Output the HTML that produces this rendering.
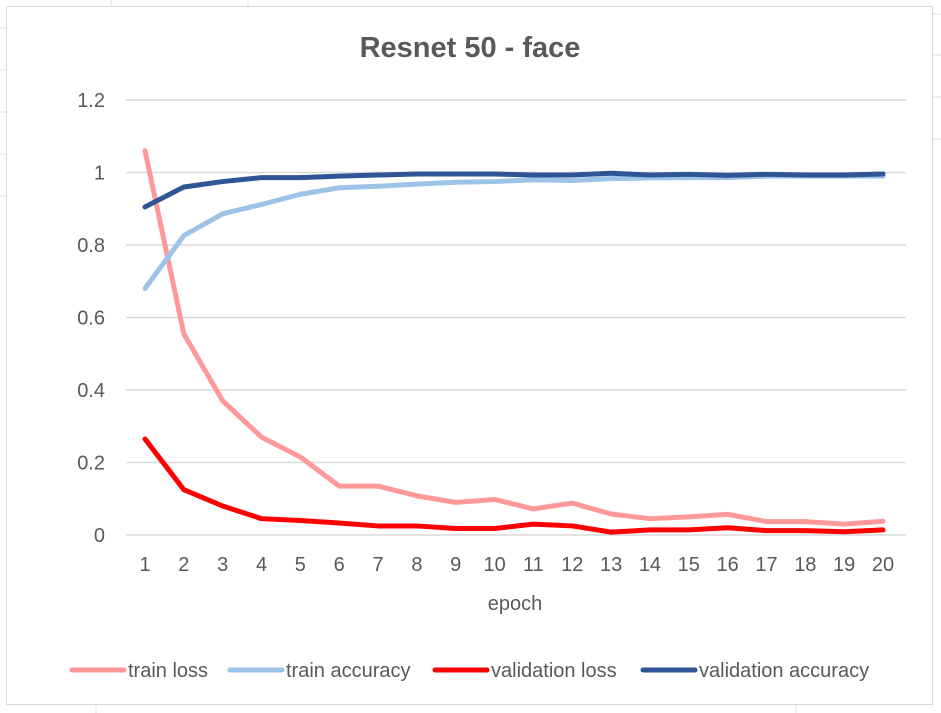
<!DOCTYPE html>
<html><head><meta charset="utf-8"><style>
html,body{margin:0;padding:0;background:#fff;}
svg{display:block;font-family:"Liberation Sans",sans-serif;}
</style></head><body>
<svg id="chart" width="941" height="713" viewBox="0 0 941 713">
<g stroke="#e1e1e1" stroke-width="1">
<line x1="111" y1="0" x2="111" y2="6"/><line x1="248" y1="0" x2="248" y2="6"/>
<line x1="0" y1="28" x2="6" y2="28"/><line x1="0" y1="70" x2="6" y2="70"/><line x1="0" y1="112" x2="6" y2="112"/><line x1="0" y1="154" x2="6" y2="154"/><line x1="0" y1="196" x2="6" y2="196"/>
<line x1="933" y1="14" x2="941" y2="14"/><line x1="933" y1="55" x2="941" y2="55"/><line x1="933" y1="97" x2="941" y2="97"/><line x1="933" y1="139" x2="941" y2="139"/>
<line x1="96" y1="705" x2="96" y2="713"/><line x1="796" y1="705" x2="796" y2="713"/>
</g>
<rect x="6.5" y="6.5" width="926" height="698" fill="#fff" stroke="#d9d9d9"/>
<text x="470" y="57" text-anchor="middle" font-size="29" font-weight="bold" fill="#595959">Resnet 50 - face</text>
<g id="grid"></g>
<g id="yticks"></g>
<g id="xticks"></g>
<text x="515" y="610" text-anchor="middle" font-size="20" fill="#595959">epoch</text>
<g id="series"></g>
<g id="legend"></g>
</svg>
<script>
const epochs=[1,2,3,4,5,6,7,8,9,10,11,12,13,14,15,16,17,18,19,20];
const yTicks=[0,0.2,0.4,0.6,0.8,1,1.2];
const yTickLabels=["0","0.2","0.4","0.6","0.8","1","1.2"];
const trainLoss=[1.06,0.555,0.37,0.27,0.215,0.135,0.135,0.108,0.09,0.098,0.072,0.088,0.058,0.045,0.05,0.057,0.037,0.037,0.03,0.038];
const trainAcc=[0.68,0.826,0.886,0.912,0.94,0.958,0.962,0.968,0.973,0.975,0.98,0.978,0.983,0.985,0.986,0.986,0.99,0.99,0.99,0.99];
const valLoss=[0.265,0.125,0.08,0.045,0.04,0.033,0.025,0.025,0.018,0.018,0.03,0.025,0.008,0.014,0.014,0.02,0.012,0.012,0.009,0.014];
const valAcc=[0.905,0.96,0.975,0.986,0.986,0.99,0.993,0.996,0.996,0.996,0.993,0.993,0.998,0.993,0.995,0.992,0.995,0.993,0.993,0.996];
const seriesNames=["train loss","train accuracy","validation loss","validation accuracy"];
const NS="http://www.w3.org/2000/svg";
const x0=145,x1=883,yBase=535,yTop=100;
function X(i){return x0+(x1-x0)*(i-1)/19;}
function Y(v){return yBase-(yBase-yTop)*v/1.2;}
function mk(t,a,p){const e=document.createElementNS(NS,t);for(const k in a)e.setAttribute(k,a[k]);p.appendChild(e);return e;}
const grid=document.getElementById('grid'),yt=document.getElementById('yticks'),xt=document.getElementById('xticks');
yTicks.forEach((v,i)=>{
  const l=mk('line',{x1:126,x2:906,y1:Y(v),y2:Y(v),stroke:'#d9d9d9','stroke-width':1.5},grid);
  
  
  const t=mk('text',{x:105,y:Y(v)+7,'text-anchor':'end','font-size':20,fill:'#595959'},yt);
  t.textContent=yTickLabels[i];
  
  
});
epochs.forEach(e=>{
  const t=mk('text',{x:X(e),y:571,'text-anchor':'middle','font-size':20,fill:'#595959'},xt);
  t.textContent=String(e);
  
  
});
const data=[trainLoss,trainAcc,valLoss,valAcc];
const colors=["#ff9999","#9dc3e6","#ff0000","#2f5597"];
const sg=document.getElementById('series');
data.forEach((d,si)=>{
  const pts=d.map((v,i)=>X(epochs[i])+','+Y(v)).join(' ');
  const p=mk('polyline',{points:pts,fill:'none',stroke:colors[si],'stroke-width':5,'stroke-linejoin':'round','stroke-linecap':'round'},sg);
  
  
});
const lg=document.getElementById('legend');
const lx=[72,230,435,643];
seriesNames.forEach((n,i)=>{
  const g=mk('g',{},lg);
  
  
  mk('line',{x1:lx[i],x2:lx[i]+52,y1:670,y2:670,stroke:colors[i],'stroke-width':5,'stroke-linecap':'round'},g);
  const t=mk('text',{x:lx[i]+56,y:677,'font-size':20,fill:'#595959'},g);
  t.textContent=n;
});
</script>
</body></html>
